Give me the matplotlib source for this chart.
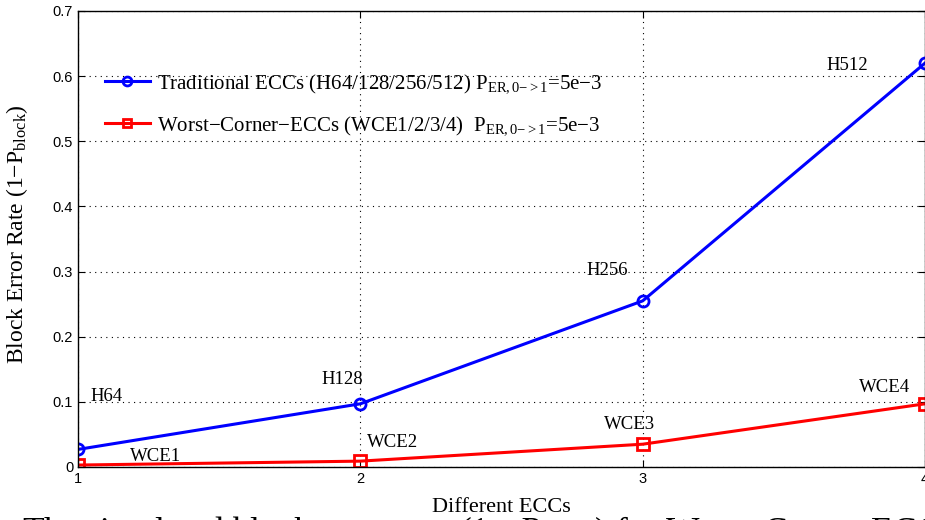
import numpy as np
import matplotlib
matplotlib.use('Agg')
import matplotlib.pyplot as plt

plt.rcParams['mathtext.fontset'] = 'custom'
plt.rcParams['mathtext.rm'] = 'Liberation Serif'
plt.rcParams['mathtext.it'] = 'Liberation Serif:italic'

x = [1, 2, 3, 4]
trad = [0.027, 0.097, 0.255, 0.620]
wce = [0.003, 0.009, 0.035, 0.097]

trad_names = ['H64', 'H128', 'H256', 'H512']
wce_names = ['WCE1', 'WCE2', 'WCE3', 'WCE4']
# label positions (data coords)
trad_lx = [1.10, 1.935, 2.873, 3.726]
trad_ly = [0.1075, 0.1336, 0.301, 0.616]
wce_lx = [1.273, 2.115, 2.954, 3.857]
wce_ly = [0.0154, 0.0369, 0.0645, 0.1214]

serif = 'Liberation Serif'
sans = 'Liberation Sans'

fig = plt.figure(figsize=(9.25, 5.2), dpi=100)
ax = fig.add_axes([78/925, 1-467/520, 847/925, 456/520])

ax.plot(x, trad, '-o', color='blue', lw=2.2, ms=8, mfc='none', mew=2,
        label=r'Traditional ECCs (H64/128/256/512) P$_{\mathrm{ER,0{-}{>}1}}$=5e−3')
ax.plot(x, wce, '-s', color='red', lw=2.2, ms=8, mfc='none', mew=2,
        label=r'Worst−Corner−ECCs (WCE1/2/3/4)  P$_{\mathrm{ER,0{-}{>}1}}$=5e−3')

for n, lx, ly in zip(trad_names, trad_lx, trad_ly):
    ax.text(lx, ly, n, ha='center', va='center', fontsize=13.5, family=serif)
for n, lx, ly in zip(wce_names, wce_lx, wce_ly):
    ax.text(lx, ly, n, ha='center', va='center', fontsize=13.5, family=serif)

ax.set_xlim(1, 4)
ax.set_ylim(0, 0.7)
ax.set_xticks([1, 2, 3, 4])
ax.set_yticks(np.arange(0, 0.71, 0.1))
ax.set_yticklabels(['0', '0.1', '0.2', '0.3', '0.4', '0.5', '0.6', '0.7'])
for lab in ax.get_xticklabels() + ax.get_yticklabels():
    lab.set_family(sans)
    lab.set_fontsize(10.5)
ax.tick_params(direction='in', top=True, right=True, length=5, width=0.8)
ax.grid(True, color='black', linestyle=(0, (1, 4)), lw=0.8)
for s in ax.spines.values():
    s.set_linewidth(1.0)

ax.set_xlabel('Different ECCs', fontsize=16, family=serif)
ax.xaxis.set_label_coords(0.5, -0.068)
ax.set_ylabel(r'Block Error Rate (1−P$_{\mathrm{block}}$)', fontsize=17, family=serif)
ax.yaxis.set_label_coords(-0.057, 0.51)

leg = ax.legend(loc='upper left', bbox_to_anchor=(0.032, 0.865), frameon=False,
                prop={'family': serif, 'size': 15}, handlelength=2.15,
                labelspacing=0.9, handletextpad=0.33, borderpad=0,
                borderaxespad=0, markerscale=0.8)

fig.text(22/925, 1-515/520, r'The simulated block error rate $(1 - P_{block})$ for Worst-Corner ECCs',
         fontsize=25.5, family=serif, va='top', ha='left')

fig.savefig('out.png', dpi=100)
